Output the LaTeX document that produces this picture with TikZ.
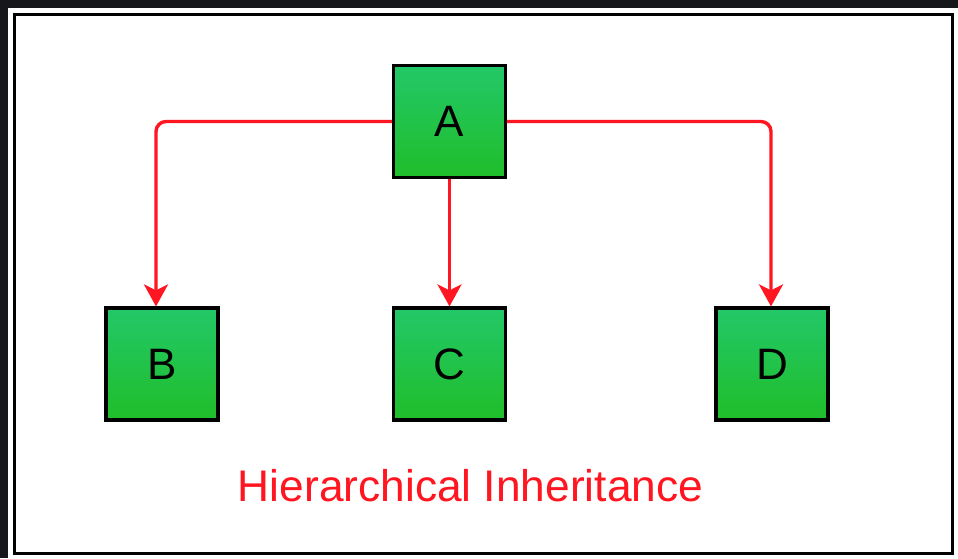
\documentclass[tikz,border=0pt]{standalone}
\usepackage{fontspec}
\setmainfont{Liberation Sans}
\usetikzlibrary{arrows.meta}
\definecolor{bgdark}{RGB}{22,23,27}
\definecolor{linered}{RGB}{255,22,32}
\definecolor{greentop}{RGB}{34,200,104}
\definecolor{greenbot}{RGB}{32,190,42}
\begin{document}
\begin{tikzpicture}[x=1pt,y=-1pt,
  cls/.style={draw=black, line width=3.2pt, top color=greentop, bottom color=greenbot,
    minimum width=112pt, minimum height=112pt, inner sep=0pt,
    font=\fontsize{44}{44}\selectfont, text=black},
  link/.style={draw=linered, line width=3.4pt, rounded corners=10pt,
    -{Stealth[length=22pt,width=24pt,inset=6pt]}},
  title/.style={text=linered, font=\fontsize{44.3}{44}\selectfont, inner sep=0pt}]
\useasboundingbox (0,0) rectangle (958,558);
\fill[bgdark] (0,0) rectangle (958,558);
\fill[white] (8,8) rectangle (958,558);
\draw[line width=3.5pt] (14.5,14.5) rectangle (952.5,553.5);
\node[cls] (A) at (449.5,121.5) {A};
\node[cls] (B) at (162,364) {B};
\node[cls] (C) at (449.5,364) {C};
\node[cls] (D) at (772,364) {D};
\draw[link] (A.west) -| ([xshift=-6pt]B.north);
\draw[link] (A.south) -- (C.north);
\draw[link] (A.east) -| ([xshift=-1pt]D.north);
\node[title, anchor=base] (T) at (470.5,501) {Hierarchical Inheritance};
\end{tikzpicture}
\end{document}
